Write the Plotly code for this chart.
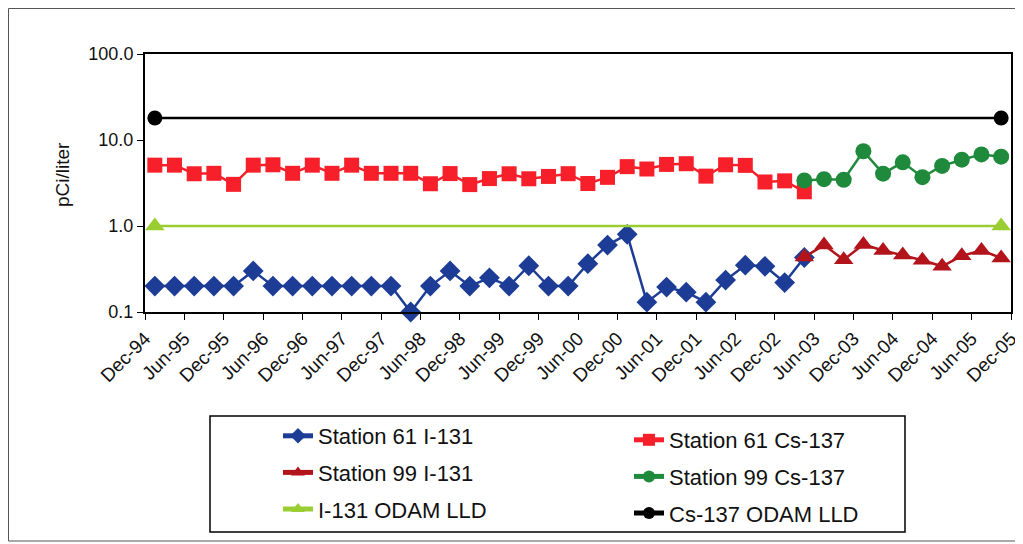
import plotly.graph_objects as go

# Tick labels (every second quarter boundary)
tick_labels = ["Dec-94", "Jun-95", "Dec-95", "Jun-96", "Dec-96", "Jun-97", "Dec-97",
               "Jun-98", "Dec-98", "Jun-99", "Dec-99", "Jun-00", "Dec-00", "Jun-01",
               "Dec-01", "Jun-02", "Dec-02", "Jun-03", "Dec-03", "Jun-04", "Dec-04",
               "Jun-05", "Dec-05"]

# Quarterly sample indices (categories on the x axis)
s61_quarters = list(range(0, 34))
s99_quarters = list(range(33, 44))
lld_quarters = [0, 43]

s61_i131 = [0.20, 0.20, 0.20, 0.20, 0.20, 0.30, 0.20, 0.20, 0.20, 0.20, 0.20, 0.20,
            0.20, 0.10, 0.20, 0.30, 0.20, 0.25, 0.20, 0.345, 0.20, 0.20, 0.365, 0.60,
            0.80, 0.13, 0.195, 0.17, 0.13, 0.235, 0.35, 0.34, 0.22, 0.43]
s61_cs137 = [5.1, 5.1, 4.05, 4.1, 3.05, 5.1, 5.15, 4.1, 5.1, 4.1, 5.1, 4.1, 4.1, 4.1,
             3.1, 4.07, 3.03, 3.56, 4.05, 3.54, 3.77, 4.06, 3.12, 3.68, 4.9, 4.6, 5.2,
             5.3, 3.8, 5.15, 5.07, 3.25, 3.35, 2.5]
s99_i131 = [0.435, 0.60, 0.405, 0.61, 0.52, 0.46, 0.40, 0.34, 0.45, 0.52, 0.425]
s99_cs137 = [3.38, 3.5, 3.45, 7.4, 4.06, 5.5, 3.7, 5.0, 5.9, 6.8, 6.4]
i131_lld = [1.0, 1.0]
cs137_lld = [18.0, 18.0]

y_tickvals = [0.1, 1, 10, 100]
y_ticktext = ["0.1", "1.0", "10.0", "100.0"]


def xs(q):
    return [v + 0.5 for v in q]


fig = go.Figure()

fig.add_trace(go.Scatter(x=xs(s61_quarters), y=s61_i131, name="Station 61 I-131",
                         mode="lines+markers", legend="legend", legendgroup="a",
                         line=dict(color="#1c3c96", width=2.5),
                         marker=dict(symbol="diamond", size=16, color="#1c3c96"),
                         cliponaxis=False))
fig.add_trace(go.Scatter(x=xs(s61_quarters), y=s61_cs137, name="Station 61 Cs-137",
                         mode="lines+markers", legend="legend2", legendgroup="b",
                         line=dict(color="#f7202a", width=2.5),
                         marker=dict(symbol="square", size=15, color="#f7202a"),
                         cliponaxis=False))
fig.add_trace(go.Scatter(x=xs(s99_quarters), y=s99_i131, name="Station 99 I-131",
                         mode="lines+markers", legend="legend", legendgroup="c",
                         line=dict(color="#b3141c", width=2.5),
                         marker=dict(symbol="triangle-up", size=17, color="#b3141c"),
                         cliponaxis=False))
fig.add_trace(go.Scatter(x=xs(s99_quarters), y=s99_cs137, name="Station 99 Cs-137",
                         mode="lines+markers", legend="legend2", legendgroup="d",
                         line=dict(color="#1f8a3c", width=2.5),
                         marker=dict(symbol="circle", size=16, color="#1f8a3c"),
                         cliponaxis=False))
fig.add_trace(go.Scatter(x=xs(lld_quarters), y=i131_lld, name="I-131 ODAM LLD",
                         mode="lines+markers", legend="legend", legendgroup="e",
                         line=dict(color="#9acd32", width=2.5),
                         marker=dict(symbol="triangle-up", size=17, color="#9acd32"),
                         cliponaxis=False))
fig.add_trace(go.Scatter(x=xs(lld_quarters), y=cs137_lld, name="Cs-137 ODAM LLD",
                         mode="lines+markers", legend="legend2", legendgroup="f",
                         line=dict(color="#000000", width=2.5),
                         marker=dict(symbol="circle", size=15, color="#000000"),
                         cliponaxis=False))

# The page body adds an 8px offset; figure coordinates below are in figure pixels
W, H = 1015, 536
L, R, T, B = 137, 12, 46, 232
pw = W - L - R
ph = H - T - B


def px_x(p):
    return (p - L) / pw


def px_y(p):
    return (H - B - p) / ph


fig.update_layout(
    width=W, height=H,
    margin=dict(l=L, r=R, t=T, b=B, autoexpand=False),
    paper_bgcolor="white", plot_bgcolor="white",
    font=dict(family="Arial, Liberation Sans, sans-serif", color="#111111", size=18),
    xaxis=dict(range=[0, 44], tickmode="array",
               tickvals=list(range(0, 2 * len(tick_labels), 2)), ticktext=tick_labels,
               tickangle=-45, ticks="outside", ticklen=6, tickcolor="#000",
               showline=True, linecolor="#000", linewidth=2, mirror=True,
               showgrid=False, zeroline=False, tickfont=dict(size=19),
               ticklabeloverflow="allow", automargin=False),
    yaxis=dict(type="log", range=[-1, 2], tickmode="array",
               tickvals=y_tickvals, ticktext=y_ticktext,
               ticks="outside", ticklen=6, tickcolor="#000",
               showline=True, linecolor="#000", linewidth=2, mirror=True,
               showgrid=False, zeroline=False, tickfont=dict(size=18),
               ticklabeloverflow="allow", automargin=False),
    annotations=[dict(text="pCi/liter", textangle=-90, xref="paper", yref="paper",
                      x=px_x(54), y=px_y(167), showarrow=False,
                      xanchor="center", yanchor="middle", font=dict(size=19))],
    legend=dict(xref="container", yref="container", x=270 / W, y=1 - 407 / H,
                xanchor="left", yanchor="top",
                bgcolor="rgba(0,0,0,0)", font=dict(size=22), tracegroupgap=5,
                itemsizing="constant"),
    legend2=dict(xref="container", yref="container", x=621 / W, y=1 - 411 / H,
                 xanchor="left", yanchor="top",
                 bgcolor="rgba(0,0,0,0)", font=dict(size=22), tracegroupgap=5,
                 itemsizing="constant"),
    shapes=[
        dict(type="rect", xref="paper", yref="paper",
             x0=px_x(202), x1=px_x(897), y0=px_y(524), y1=px_y(408),
             line=dict(color="#000", width=1.5)),
        dict(type="rect", xref="paper", yref="paper",
             x0=px_x(0.5), x1=px_x(1013), y0=px_y(533), y1=px_y(0.5),
             line=dict(color="#555", width=1)),
    ],
)

fig.write_html("out.html")
